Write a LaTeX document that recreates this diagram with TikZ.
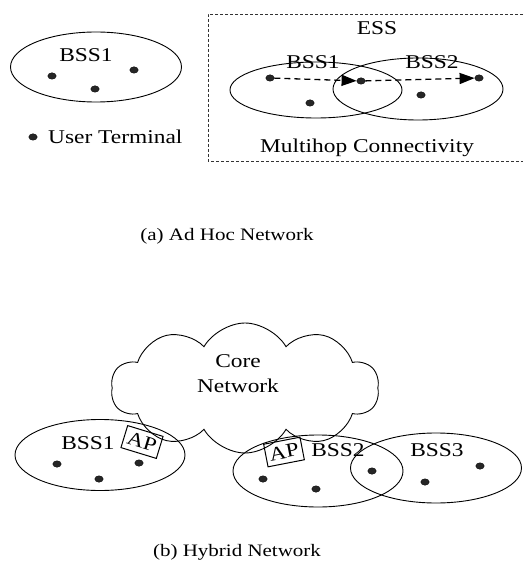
\documentclass[tikz,border=0pt]{standalone}
\usepackage{fontspec}
\setmainfont{Liberation Serif}[FakeStretch=1.2]
\usetikzlibrary{shapes.geometric,shapes.symbols,arrows.meta}
\begin{document}
\begin{tikzpicture}[x=1pt,y=-1pt,
  lbl/.style={font=\fontsize{19.5}{22}\selectfont, inner sep=0pt},
  captiontext/.style={font=\fontsize{17.5}{20}\selectfont, inner sep=0pt},
  bss/.style={ellipse, draw, line width=0.9pt, inner sep=0pt},
  ut/.style={ellipse, fill=black!85, draw=black, line width=0.3pt, minimum width=8.5pt, minimum height=6.5pt, inner sep=0pt},
  hop/.style={line width=1.3pt, dash pattern=on 6pt off 4pt, -{Triangle[length=15pt,width=11pt]}},
  apbox/.style={draw, line width=1pt, minimum width=37pt, minimum height=23pt, inner sep=0pt, font=\fontsize{19.5}{22}\selectfont}
]
\useasboundingbox (0,0) rectangle (525,561);

% ---- (a) ad hoc network ----
\node[bss, minimum width=171pt, minimum height=70pt] (abss) at (96,67) {};
\node[lbl] (abssl) at (86,55) {BSS1};
\node[ut] (a1) at (52,76) {};
\node[ut] (a2) at (134,70) {};
\node[ut] (a3) at (95,89) {};

\node[ut] (legdot) at (33,137) {};
\node[lbl, anchor=west] (legtxt) at (48,137) {User Terminal};

% ESS frame (open on the right)
\coordinate (f1) at (523,14);
\coordinate (f2) at (208,14);
\coordinate (f3) at (208,161);
\coordinate (f4) at (523,161);
\draw[line width=0.7pt, dash pattern=on 3pt off 2pt, black!80] (f1) -- (f2) -- (f3) -- (f4);
\node[lbl] (ess) at (377,28) {ESS};

\node[bss, minimum width=172pt, minimum height=56pt] (e1) at (316,90) {};
\node[bss, minimum width=170pt, minimum height=62pt] (e2) at (418,89) {};
\node[lbl] (e1l) at (313,62) {BSS1};
\node[lbl] (e2l) at (432,62) {BSS2};

\node[ut] (h1) at (270,78) {};
\node[ut] (h2) at (361,81) {};
\node[ut] (h3) at (479,78) {};
\node[ut] (h4) at (310,103) {};
\node[ut] (h5) at (421,95) {};
\draw[hop] (h1) -- (h2);
\draw[hop] (h2) -- (h3);

\node[lbl] (multi) at (367,148) {Multihop Connectivity};
\node[captiontext] (capa) at (227,236) {(a) Ad Hoc Network};

% ---- (b) hybrid network ----
\node[cloud, draw, line width=0.9pt, cloud puffs=10, cloud puff arc=120, aspect=2.1,
      minimum width=268pt, minimum height=130pt] (core) at (245,388) {};
\node[lbl, align=center] (corel) at (238,374) {Core\\[3pt]Network};

\node[bss, minimum width=170pt, minimum height=71pt] (b1) at (100,455) {};
\node[bss, minimum width=170pt, minimum height=72pt] (b2) at (318,471) {};
\node[bss, minimum width=171pt, minimum height=70pt] (b3) at (436,468) {};
\node[lbl] (b1l) at (88,443) {BSS1};
\node[lbl] (b2l) at (338,450) {BSS2};
\node[lbl] (b3l) at (437,450) {BSS3};

\node[apbox, rotate=-17] (ap1) at (142,442) {AP};
\node[apbox, rotate=11] (ap2) at (284,452) {AP};

\node[ut] (p1) at (57,464) {};
\node[ut] (p2) at (139,463) {};
\node[ut] (p3) at (99,479) {};
\node[ut] (q1) at (263,479) {};
\node[ut] (q2) at (316,489) {};
\node[ut] (q3) at (372,471) {};
\node[ut] (q4) at (425,482) {};
\node[ut] (q5) at (480,466) {};

\node[captiontext] (capb) at (237,552) {(b) Hybrid Network};
\end{tikzpicture}
\end{document}
